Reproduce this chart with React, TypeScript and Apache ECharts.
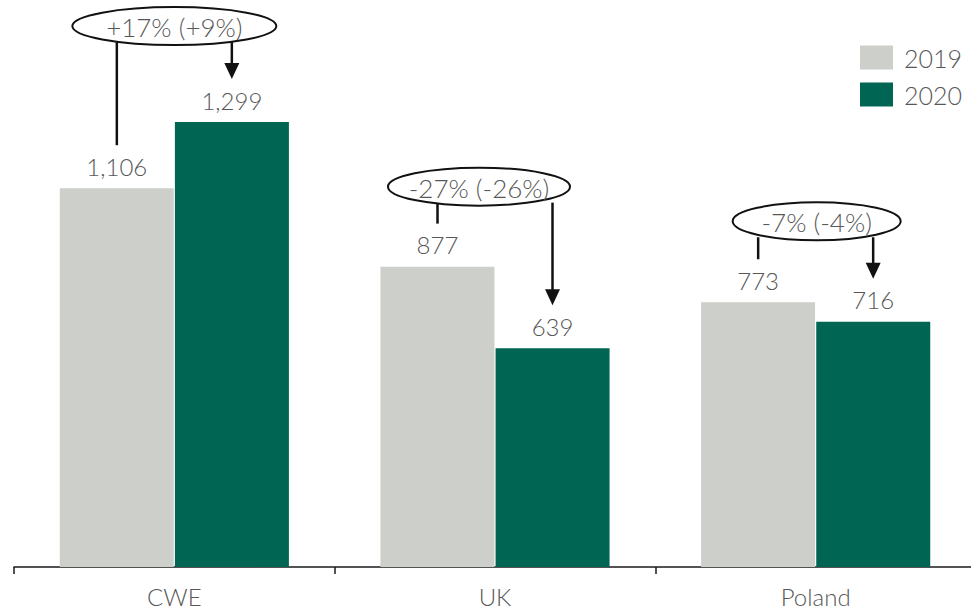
import React, { useEffect, useRef } from "react";
import * as echarts from "echarts";

// Regions and yearly values
const regions = ["CWE", "UK", "Poland"];
const values2019 = [1106, 877, 773];
const values2020 = [1299, 639, 716];
const changeLabels = ["+17% (+9%)", "-27% (-26%)", "-7% (-4%)"];

// Callout layout (pixels)
const calloutLift = [96, 80, 81];
const calloutShift = [0, -16, 1];
const calloutRx = [102, 91, 84];
const CALLOUT_RY = 19;
const LEADER_GAP = 43;

const GREY = "#cdcfca";
const GREEN = "#006653";
const TEXT = "#575757";
const FONT = "Lato, 'Open Sans', sans-serif";
const BAR_W = 114;
const BAR_GAP_PX = 1;

// The last category band runs a few pixels past the visible edge.
const VIEW_W = 971;
const CHART_W = 976;
const CHART_H = 611;

function fmt(v: number) {
  return v.toLocaleString("en-US");
}

export default function App() {
  const ref = useRef<HTMLDivElement>(null);

  useEffect(() => {
    if (!ref.current) return;
    const chart = echarts.init(ref.current, undefined, { renderer: "svg" });

    const labelStyle = {
      show: true,
      position: "top" as const,
      distance: 10,
      fontFamily: FONT,
      fontWeight: 300 as any,
      fontSize: 24,
      color: TEXT,
      formatter: (p: any) => fmt(p.value),
    };

    chart.setOption({
      animation: false,
      grid: { left: 14, right: 0, top: 19, bottom: 44 },
      legend: {
        orient: "vertical",
        right: 4 + (CHART_W - VIEW_W),
        top: 40,
        itemWidth: 33,
        itemHeight: 24,
        itemGap: 12,
        icon: "rect",
        textStyle: {
          fontFamily: FONT,
          fontWeight: 300,
          fontSize: 25,
          color: TEXT,
          padding: [0, 0, 0, 6],
        },
        data: ["2019", "2020"],
      },
      xAxis: {
        type: "category",
        data: regions,
        axisLine: { lineStyle: { color: "#1a1a1a", width: 1.5 } },
        axisTick: { show: true, length: 7, lineStyle: { color: "#1a1a1a", width: 1.5 } },
        axisLabel: {
          fontFamily: FONT,
          fontWeight: 300,
          fontSize: 24,
          color: TEXT,
          margin: 17,
        },
      },
      yAxis: {
        type: "value",
        min: 0,
        max: 1600,
        show: false,
        splitLine: { show: false },
      },
      series: [
        {
          name: "2019",
          type: "bar",
          data: values2019,
          barWidth: BAR_W,
          barGap: "1%",
          itemStyle: { color: GREY },
          label: labelStyle,
        },
        {
          name: "2020",
          type: "bar",
          data: values2020,
          barWidth: BAR_W,
          barGap: "1%",
          itemStyle: { color: GREEN },
          label: labelStyle,
        },
      ],
    });

    // Change callouts: ellipse above each pair, a leader from the 2019 bar
    // and an arrow pointing down to the 2020 bar.
    const graphics: any[] = [];
    const half = (BAR_W + BAR_GAP_PX) / 2;
    regions.forEach((_, i) => {
      const p19 = chart.convertToPixel({ gridIndex: 0 }, [i, values2019[i]]) as number[];
      const p20 = chart.convertToPixel({ gridIndex: 0 }, [i, values2020[i]]) as number[];
      const center = p19[0];
      const x19 = center - half;
      const x20 = center + half;
      const cx = center + calloutShift[i];
      const top = Math.min(p19[1], p20[1]);
      const cy = top - calloutLift[i];
      const bottom = cy + CALLOUT_RY;
      const end19 = p19[1] - LEADER_GAP;
      const tip20 = p20[1] - LEADER_GAP;
      const head = 16;
      const headHalf = 7.5;

      graphics.push(
        {
          type: "line",
          shape: { x1: x19, y1: bottom - 3, x2: x19, y2: end19 },
          style: { stroke: "#111", lineWidth: 2.5 },
          z: 10,
        },
        {
          type: "line",
          shape: { x1: x20, y1: bottom - 3, x2: x20, y2: tip20 - head + 1 },
          style: { stroke: "#111", lineWidth: 2.5 },
          z: 10,
        },
        {
          type: "polygon",
          shape: {
            points: [
              [x20 - headHalf, tip20 - head],
              [x20 + headHalf, tip20 - head],
              [x20, tip20],
            ],
          },
          style: { fill: "#111" },
          z: 10,
        },
        {
          type: "ellipse",
          shape: { cx, cy, rx: calloutRx[i], ry: CALLOUT_RY },
          style: { fill: "#fff", stroke: "#111", lineWidth: 2 },
          z: 11,
        },
        {
          type: "text",
          x: cx,
          y: cy + 1,
          style: {
            text: changeLabels[i],
            fontFamily: FONT,
            fontWeight: 300,
            fontSize: 26,
            fill: TEXT,
            align: "center",
            verticalAlign: "middle",
          },
          z: 12,
        }
      );
    });
    chart.setOption({ graphic: graphics });

    return () => chart.dispose();
  }, []);

  return (
    <div
      style={{
        position: "absolute",
        left: 0,
        top: 0,
        width: VIEW_W,
        height: CHART_H,
        overflow: "hidden",
        background: "#fff",
      }}
    >
      <div ref={ref} style={{ width: CHART_W, height: CHART_H }} />
    </div>
  );
}
